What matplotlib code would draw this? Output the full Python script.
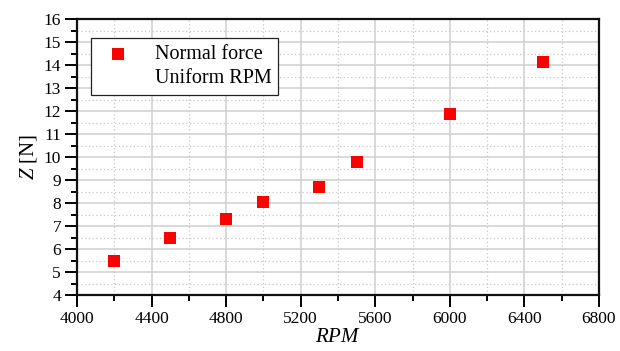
import matplotlib
matplotlib.use("Agg")
import matplotlib.pyplot as plt
from matplotlib.ticker import MultipleLocator

# Normal force vs uniform RPM
rpm = [4200, 4500, 4800, 5000, 5300, 5500, 6000, 6500]
normal_force = [5.5, 6.46, 7.3, 8.03, 8.68, 9.8, 11.86, 14.12]

plt.rcParams["font.family"] = ["Liberation Serif", "DejaVu Serif"]
plt.rcParams["mathtext.fontset"] = "custom"
plt.rcParams["mathtext.it"] = "Liberation Serif:italic"
plt.rcParams["mathtext.rm"] = "Liberation Serif"

fig = plt.figure(figsize=(6.2, 3.51), dpi=100)
ax = fig.add_axes([77 / 620, 1 - 295 / 351, (599 - 77) / 620, (295 - 19) / 351])

ax.scatter(rpm, normal_force, marker="s", s=80, color="#ff0000",
           linewidths=0, zorder=3, label="Normal force")
ax.plot([], [], ls="none", label="Uniform RPM")

ax.set_xlim(4000, 6800)
ax.set_ylim(4, 16)
ax.xaxis.set_major_locator(MultipleLocator(400))
ax.xaxis.set_minor_locator(MultipleLocator(200))
ax.yaxis.set_major_locator(MultipleLocator(1))
ax.yaxis.set_minor_locator(MultipleLocator(0.5))

ax.grid(True, which="major", color="#cfcfcf", lw=1.1, ls="-", zorder=0)
ax.grid(True, which="minor", color="#c8c8c8", lw=0.9, ls=(0, (1, 2)), zorder=0)
ax.set_axisbelow(True)

ax.tick_params(which="major", direction="out", length=8.5, width=1.4,
               labelsize=12.5, top=False, right=False, pad=3)
ax.tick_params(which="minor", direction="out", length=4.3, width=1.4,
               top=False, right=False)
for sp in ax.spines.values():
    sp.set_linewidth(1.6)
    sp.set_color("#111111")

ax.set_xlabel("$RPM$", fontsize=15, labelpad=1)
ax.set_ylabel("$Z$ [N]", fontsize=15, labelpad=3)

leg = ax.legend(loc="upper left", bbox_to_anchor=(0.027, 0.932),
                fontsize=14.5, frameon=True, fancybox=False, edgecolor="#222222",
                framealpha=1, borderpad=0.35, handletextpad=0.8,
                labelspacing=0.25, scatterpoints=1, borderaxespad=0)
leg.get_frame().set_linewidth(0.9)

fig.savefig("out.png", dpi=100)
